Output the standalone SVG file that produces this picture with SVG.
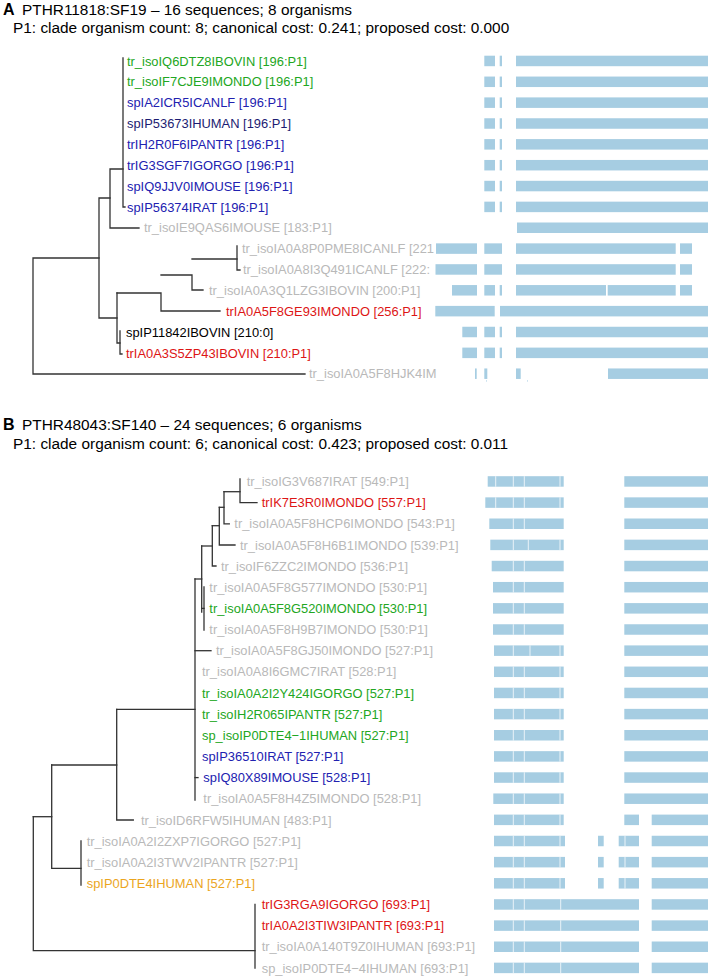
<svg xmlns="http://www.w3.org/2000/svg" width="708" height="980" viewBox="0 0 708 980">
<style>
text{font-family:"Liberation Sans",Arial,Helvetica,sans-serif;}
.h{font-size:15.4px;fill:#000;}
.hb{font-size:16px;font-weight:bold;fill:#000;}
.l{font-size:12.9px;}
.g{fill:#22a622;}
.b{fill:#2121b0;}
.n{fill:#1c1c72;}
.r{fill:#dd1515;}
.k{fill:#000;}
.y{fill:#b9b9b9;}
.o{fill:#eba51e;}
.t{fill:none;stroke:#333;stroke-width:1.3;stroke-linecap:square;}
.bar rect{fill:#a6cde2;}
.dv{stroke:#fff;stroke-width:0.9;stroke-opacity:0.85;}
</style>
<rect width="708" height="980" fill="#fff"/>

<!-- Panel A header -->
<g id="headerA">
<text class="hb" x="3" y="14.5">A</text>
<text class="h" x="22" y="14.5">PTHR11818:SF19 – 16 sequences; 8 organisms</text>
<text class="h" x="13" y="33">P1: clade organism count: 8; canonical cost: 0.241; proposed cost: 0.000</text>
</g>

<!-- Panel A alignment -->
<g id="alignA" class="bar">
<g transform="translate(0,55.7)"><rect x="484.3" y="0" width="10.7" height="10.5"/><rect x="499.7" y="0" width="2.3" height="10.5"/><rect x="516" y="0" width="192" height="10.5"/></g>
<g transform="translate(0,76.55)"><rect x="484.3" y="0" width="10.7" height="10.5"/><rect x="499.7" y="0" width="2.3" height="10.5"/><rect x="516" y="0" width="192" height="10.5"/></g>
<g transform="translate(0,97.4)"><rect x="484.3" y="0" width="10.7" height="10.5"/><rect x="499.7" y="0" width="2.3" height="10.5"/><rect x="516" y="0" width="192" height="10.5"/></g>
<g transform="translate(0,118.25)"><rect x="484.3" y="0" width="10.7" height="10.5"/><rect x="499.7" y="0" width="2.3" height="10.5"/><rect x="516" y="0" width="192" height="10.5"/></g>
<g transform="translate(0,139.1)"><rect x="484.3" y="0" width="10.7" height="10.5"/><rect x="499.7" y="0" width="2.3" height="10.5"/><rect x="516" y="0" width="192" height="10.5"/></g>
<g transform="translate(0,159.95)"><rect x="484.3" y="0" width="10.7" height="10.5"/><rect x="499.7" y="0" width="2.3" height="10.5"/><rect x="516" y="0" width="192" height="10.5"/></g>
<g transform="translate(0,180.8)"><rect x="484.3" y="0" width="10.7" height="10.5"/><rect x="499.7" y="0" width="2.3" height="10.5"/><rect x="516" y="0" width="192" height="10.5"/></g>
<g transform="translate(0,201.65)"><rect x="484.3" y="0" width="10.7" height="10.5"/><rect x="499.7" y="0" width="2.3" height="10.5"/><rect x="516" y="0" width="192" height="10.5"/></g>
<g transform="translate(0,222.5)"><rect x="517" y="0" width="191" height="10.5"/></g>
<g transform="translate(0,243.35)"><rect x="436" y="0" width="41" height="10.5"/><rect x="484.3" y="0" width="17.7" height="10.5"/><rect x="516" y="0" width="159.7" height="10.5"/><rect x="680" y="0" width="12" height="10.5"/></g>
<g transform="translate(0,264.2)"><rect x="435.5" y="0" width="41.5" height="10.5"/><rect x="484.3" y="0" width="17.7" height="10.5"/><rect x="516" y="0" width="159.7" height="10.5"/><rect x="680" y="0" width="12" height="10.5"/></g>
<g transform="translate(0,285.05)"><rect x="452" y="0" width="25" height="10.5"/><rect x="484.3" y="0" width="10.7" height="10.5"/><rect x="499.7" y="0" width="2.3" height="10.5"/><rect x="516" y="0" width="90" height="10.5"/><rect x="607.7" y="0" width="68" height="10.5"/><rect x="680" y="0" width="12" height="10.5"/></g>
<g transform="translate(0,305.9)"><rect x="435.3" y="0" width="59.4" height="10.5"/><rect x="500" y="0" width="208" height="10.5"/></g>
<g transform="translate(0,326.75)"><rect x="462.3" y="0" width="14.7" height="10.5"/><rect x="484.3" y="0" width="10.7" height="10.5"/><rect x="499.7" y="0" width="2.3" height="10.5"/><rect x="516" y="0" width="192" height="10.5"/></g>
<g transform="translate(0,347.6)"><rect x="462.3" y="0" width="14.7" height="10.5"/><rect x="484.3" y="0" width="10.7" height="10.5"/><rect x="499.7" y="0" width="2.3" height="10.5"/><rect x="516" y="0" width="192" height="10.5"/></g>
<g transform="translate(0,368.45)"><rect x="475" y="0" width="1.7" height="10.5"/><rect x="484.3" y="0" width="3" height="10.5"/><rect x="516" y="0" width="4.7" height="10.5"/><rect x="608" y="0" width="100" height="10.5"/><rect x="486" y="12" width="1" height="1"/><rect x="527" y="12" width="1" height="1"/></g>
</g>

<!-- Panel A connectors -->
<g id="connectorsA" class="t">
<path d="M123,58 V207 H125"/>
<path d="M123,169 H110 V228 H139"/>
<path d="M110,198 H99 V318 H117"/>
<path d="M99,258 H33 V374 H305"/>
<path d="M117,293 V343 H120"/>
<path d="M120,331 V354 H122"/>
<path d="M117,293 H161 V311 H220"/>
<path d="M161,275 H192 V290 H203"/>
<path d="M192,259 H237"/>
<path d="M237,246 V270 H240"/>
</g>

<!-- Panel A nodes -->
<g id="a01"><text class="l g" x="127" y="65.6">tr_isoIQ6DTZ8IBOVIN [196:P1]</text></g>
<g id="a02"><text class="l g" x="127" y="86.45">tr_isoIF7CJE9IMONDO [196:P1]</text></g>
<g id="a03"><text class="l b" x="127" y="107.3">spIA2ICR5ICANLF [196:P1]</text></g>
<g id="a04"><text class="l n" x="127" y="128.15">spIP53673IHUMAN [196:P1]</text></g>
<g id="a05"><text class="l b" x="127" y="149">trIH2R0F6IPANTR [196:P1]</text></g>
<g id="a06"><text class="l b" x="127" y="169.85">trIG3SGF7IGORGO [196:P1]</text></g>
<g id="a07"><text class="l b" x="127" y="190.7">spIQ9JJV0IMOUSE [196:P1]</text></g>
<g id="a08"><text class="l b" x="127" y="211.55">spIP56374IRAT [196:P1]</text></g>
<g id="a09"><text class="l y" x="144" y="232.4">tr_isoIE9QAS6IMOUSE [183:P1]</text></g>
<g id="a10"><text class="l y" x="242" y="253.25">tr_isoIA0A8P0PME8ICANLF [221</text></g>
<g id="a11"><text class="l y" x="243" y="274.1">tr_isoIA0A8I3Q491ICANLF [222:</text></g>
<g id="a12"><text class="l y" x="209" y="294.95">tr_isoIA0A3Q1LZG3IBOVIN [200:P1]</text></g>
<g id="a13"><text class="l r" x="226" y="315.8">trIA0A5F8GE93IMONDO [256:P1]</text></g>
<g id="a14"><text class="l k" x="126" y="336.65">spIP11842IBOVIN [210:0]</text></g>
<g id="a15"><text class="l r" x="126" y="357.5">trIA0A3S5ZP43IBOVIN [210:P1]</text></g>
<g id="a16"><text class="l y" x="309" y="378.35">tr_isoIA0A5F8HJK4IM</text></g>

<!-- Panel B header -->
<g id="headerB">
<text class="hb" x="3" y="430">B</text>
<text class="h" x="22" y="430">PTHR48043:SF140 – 24 sequences; 6 organisms</text>
<text class="h" x="13" y="449">P1: clade organism count: 6; canonical cost: 0.423; proposed cost: 0.011</text>
</g>

<!-- Panel B alignment -->
<g id="alignB" class="bar">
<g transform="translate(0,476.2)"><rect x="487.7" width="76" height="10.5"/><rect x="624.3" width="83.7" height="10.5"/><path class="dv" d="M495.7,0V10.5M513.3,0V10.5M524.3,0V10.5M560,0V10.5"/></g>
<g transform="translate(0,497.35)"><rect x="485.3" width="78.4" height="10.5"/><rect x="624.3" width="83.7" height="10.5"/><path class="dv" d="M495.7,0V10.5M513.3,0V10.5M524.3,0V10.5M560,0V10.5"/></g>
<g transform="translate(0,518.5)"><rect x="489.3" width="74.4" height="10.5"/><rect x="624.3" width="83.7" height="10.5"/><path class="dv" d="M513.3,0V10.5M524.3,0V10.5"/></g>
<g transform="translate(0,539.65)"><rect x="490.3" width="73.4" height="10.5"/><rect x="624.3" width="83.7" height="10.5"/><path class="dv" d="M513.3,0V10.5M528.3,0V10.5M560,0V10.5"/></g>
<g transform="translate(0,560.8)"><rect x="491.7" width="72" height="10.5"/><rect x="624.3" width="83.7" height="10.5"/><path class="dv" d="M513.3,0V10.5M524.3,0V10.5"/></g>
<g transform="translate(0,581.95)"><rect x="493" width="70.7" height="10.5"/><rect x="624.3" width="83.7" height="10.5"/><path class="dv" d="M513.3,0V10.5M524.3,0V10.5"/></g>
<g transform="translate(0,603.1)"><rect x="493" width="70.7" height="10.5"/><rect x="624.3" width="83.7" height="10.5"/><path class="dv" d="M513.3,0V10.5M524.3,0V10.5"/></g>
<g transform="translate(0,624.25)"><rect x="493" width="70.7" height="10.5"/><rect x="624.3" width="83.7" height="10.5"/><path class="dv" d="M513.3,0V10.5M524.3,0V10.5"/></g>
<g transform="translate(0,645.4)"><rect x="494" width="69.7" height="10.5"/><rect x="624.3" width="83.7" height="10.5"/><path class="dv" d="M513.3,0V10.5M530,0V10.5M560,0V10.5"/></g>
<g transform="translate(0,666.55)"><rect x="494" width="69.7" height="10.5"/><rect x="624.3" width="83.7" height="10.5"/><path class="dv" d="M513.3,0V10.5M524.3,0V10.5M560,0V10.5"/></g>
<g transform="translate(0,687.7)"><rect x="494" width="69.7" height="10.5"/><rect x="624.3" width="83.7" height="10.5"/><path class="dv" d="M513.3,0V10.5M524.3,0V10.5M560,0V10.5"/></g>
<g transform="translate(0,708.85)"><rect x="494" width="69.7" height="10.5"/><rect x="624.3" width="83.7" height="10.5"/><path class="dv" d="M513.3,0V10.5M524.3,0V10.5M560,0V10.5"/></g>
<g transform="translate(0,730)"><rect x="494" width="69.7" height="10.5"/><rect x="624.3" width="83.7" height="10.5"/><path class="dv" d="M513.3,0V10.5M524.3,0V10.5M560,0V10.5"/></g>
<g transform="translate(0,751.15)"><rect x="494" width="69.7" height="10.5"/><rect x="624.3" width="83.7" height="10.5"/><path class="dv" d="M513.3,0V10.5M524.3,0V10.5M560,0V10.5"/></g>
<g transform="translate(0,772.3)"><rect x="494" width="69.7" height="10.5"/><rect x="624.3" width="83.7" height="10.5"/><path class="dv" d="M513.3,0V10.5M524.3,0V10.5M560,0V10.5"/></g>
<g transform="translate(0,793.45)"><rect x="493.3" width="70.4" height="10.5"/><rect x="624.3" width="83.7" height="10.5"/><path class="dv" d="M513.3,0V10.5M524.3,0V10.5M560,0V10.5"/></g>
<g transform="translate(0,814.6)"><rect x="494" width="69.7" height="10.5"/><rect x="624.3" width="14.7" height="10.5"/><rect x="651.7" width="56.3" height="10.5"/><path class="dv" d="M513.3,0V10.5M524.3,0V10.5M560,0V10.5"/></g>
<g transform="translate(0,835.75)"><rect x="494" width="71" height="10.5"/><rect x="598" width="5.7" height="10.5"/><rect x="618.7" width="20.3" height="10.5"/><rect x="651.7" width="56.3" height="10.5"/><path class="dv" d="M513.3,0V10.5M524.3,0V10.5M560,0V10.5M625,0V10.5"/></g>
<g transform="translate(0,856.9)"><rect x="494" width="71" height="10.5"/><rect x="598" width="5.7" height="10.5"/><rect x="618.7" width="20.3" height="10.5"/><rect x="651.7" width="56.3" height="10.5"/><path class="dv" d="M513.3,0V10.5M524.3,0V10.5M560,0V10.5M625,0V10.5"/></g>
<g transform="translate(0,878.05)"><rect x="494" width="71" height="10.5"/><rect x="598" width="5.7" height="10.5"/><rect x="618.7" width="20.3" height="10.5"/><rect x="651.7" width="56.3" height="10.5"/><path class="dv" d="M513.3,0V10.5M524.3,0V10.5M560,0V10.5M625,0V10.5"/></g>
<g transform="translate(0,899.2)"><rect x="494" width="145" height="10.5"/><rect x="651.7" width="56.3" height="10.5"/><path class="dv" d="M513.3,0V10.5M524.3,0V10.5M560.7,0V10.5"/></g>
<g transform="translate(0,920.35)"><rect x="494" width="145" height="10.5"/><rect x="651.7" width="56.3" height="10.5"/><path class="dv" d="M513.3,0V10.5M524.3,0V10.5M560.7,0V10.5"/></g>
<g transform="translate(0,941.5)"><rect x="494" width="145" height="10.5"/><rect x="651.7" width="56.3" height="10.5"/><path class="dv" d="M513.3,0V10.5M524.3,0V10.5M560.7,0V10.5"/></g>
<g transform="translate(0,962.65)"><rect x="494" width="145" height="10.5"/><rect x="651.7" width="56.3" height="10.5"/><path class="dv" d="M513.3,0V10.5M524.3,0V10.5M560.7,0V10.5"/></g>
</g>

<!-- Panel B connectors -->
<g id="connectorsB" class="t">
<path d="M240,479 V502.7 H257"/>
<path d="M224,491.7 H240"/>
<path d="M224,491.7 V523.8 H229.3"/>
<path d="M219.3,507.3 H224"/>
<path d="M219.3,507.3 V545 H235"/>
<path d="M212.3,525.7 H219.3"/>
<path d="M212.3,525.7 V566 H216"/>
<path d="M201.7,546 H212.3"/>
<path d="M201.7,546 V612"/>
<path d="M201.7,608.4 H204"/>
<path d="M204,587 V630"/>
<path d="M195,579 H201.7"/>
<path d="M195,579 V800"/>
<path d="M195,650.7 H211"/>
<path d="M195,777.6 H198"/>
<path d="M116.7,709.3 H195"/>
<path d="M116.7,709.3 V820 H133.3"/>
<path d="M51.7,765 H116.7"/>
<path d="M51.7,765 V868.3 H81"/>
<path d="M81,841 V885"/>
<path d="M33.3,816.7 H51.7"/>
<path d="M33.3,816.7 V950.7 H255"/>
<path d="M255,904.5 V968"/>
</g>

<!-- Panel B nodes -->
<g id="b01"><text class="l y" x="246.7" y="486.1">tr_isoIG3V687IRAT [549:P1]</text></g>
<g id="b02"><text class="l r" x="261.7" y="507.25">trIK7E3R0IMONDO [557:P1]</text></g>
<g id="b03"><text class="l y" x="234.3" y="528.4">tr_isoIA0A5F8HCP6IMONDO [543:P1]</text></g>
<g id="b04"><text class="l y" x="240" y="549.55">tr_isoIA0A5F8H6B1IMONDO [539:P1]</text></g>
<g id="b05"><text class="l y" x="221" y="570.7">tr_isoIF6ZZC2IMONDO [536:P1]</text></g>
<g id="b06"><text class="l y" x="209.3" y="591.85">tr_isoIA0A5F8G577IMONDO [530:P1]</text></g>
<g id="b07"><text class="l g" x="209.3" y="613">tr_isoIA0A5F8G520IMONDO [530:P1]</text></g>
<g id="b08"><text class="l y" x="209.3" y="634.15">tr_isoIA0A5F8H9B7IMONDO [530:P1]</text></g>
<g id="b09"><text class="l y" x="216" y="655.3">tr_isoIA0A5F8GJ50IMONDO [527:P1]</text></g>
<g id="b10"><text class="l y" x="202" y="676.45">tr_isoIA0A8I6GMC7IRAT [528:P1]</text></g>
<g id="b11"><text class="l g" x="202" y="697.6">tr_isoIA0A2I2Y424IGORGO [527:P1]</text></g>
<g id="b12"><text class="l g" x="202" y="718.75">tr_isoIH2R065IPANTR [527:P1]</text></g>
<g id="b13"><text class="l g" x="202" y="739.9">sp_isoIP0DTE4−1IHUMAN [527:P1]</text></g>
<g id="b14"><text class="l b" x="202" y="761.05">spIP36510IRAT [527:P1]</text></g>
<g id="b15"><text class="l b" x="203.3" y="782.2">spIQ80X89IMOUSE [528:P1]</text></g>
<g id="b16"><text class="l y" x="203.3" y="803.35">tr_isoIA0A5F8H4Z5IMONDO [528:P1]</text></g>
<g id="b17"><text class="l y" x="141" y="824.5">tr_isoID6RFW5IHUMAN [483:P1]</text></g>
<g id="b18"><text class="l y" x="86.7" y="845.65">tr_isoIA0A2I2ZXP7IGORGO [527:P1]</text></g>
<g id="b19"><text class="l y" x="86.7" y="866.8">tr_isoIA0A2I3TWV2IPANTR [527:P1]</text></g>
<g id="b20"><text class="l o" x="86.7" y="887.95">spIP0DTE4IHUMAN [527:P1]</text></g>
<g id="b21"><text class="l r" x="261.7" y="909.1">trIG3RGA9IGORGO [693:P1]</text></g>
<g id="b22"><text class="l r" x="261.7" y="930.25">trIA0A2I3TIW3IPANTR [693:P1]</text></g>
<g id="b23"><text class="l y" x="261.7" y="951.4">tr_isoIA0A140T9Z0IHUMAN [693:P1]</text></g>
<g id="b24"><text class="l y" x="261.7" y="972.55">sp_isoIP0DTE4−4IHUMAN [693:P1]</text></g>
</svg>
